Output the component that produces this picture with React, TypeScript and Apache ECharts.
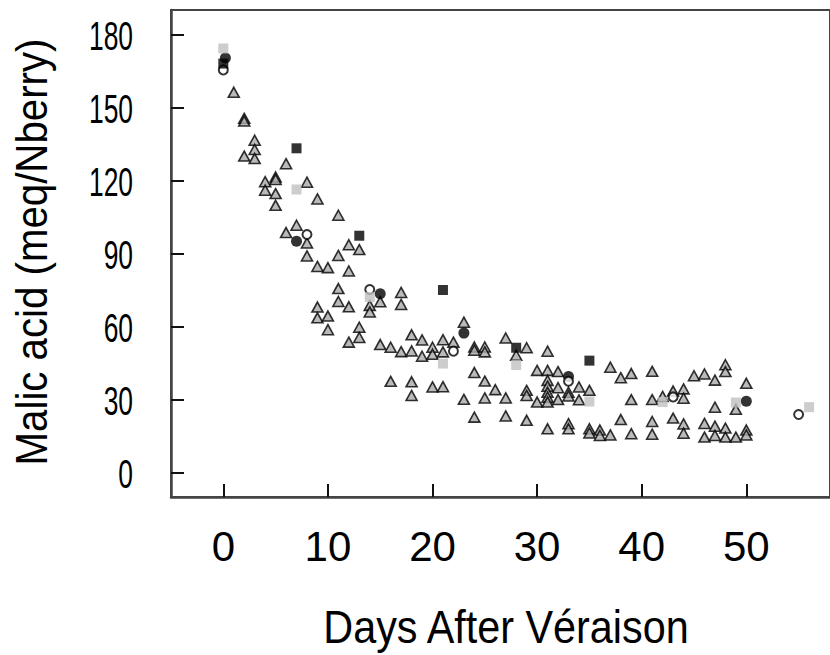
import React, { useEffect, useRef } from "react";
import * as echarts from "echarts";

const xTicks = [0, 10, 20, 30, 40, 50];
const yTicks = [0, 30, 60, 90, 120, 150, 180];

const triangles: number[][] = [
  [1, 156.2],
  [2, 145.5], [2, 144.4], [2, 130],
  [3, 136.5], [3, 132.7], [3, 129],
  [4, 119.5], [4, 116],
  [5, 121.4], [5, 120.4], [5, 114.6], [5, 109.8],
  [6, 126.9], [6, 98.6],
  [7, 101.6],
  [8, 119.3], [8, 94.3], [8, 89],
  [9, 112.4], [9, 84.7], [9, 68], [9, 63.6],
  [10, 84.2], [10, 64.3], [10, 58.7],
  [11, 105.7], [11, 89.2], [11, 75.6], [11, 70.3],
  [12, 93.6], [12, 82.8], [12, 68.1], [12, 53.6],
  [13, 91.6], [13, 59.7], [13, 55.5],
  [14, 68.7], [14, 66],
  [15, 70.2], [15, 52.6],
  [16, 51.5], [16, 37.5],
  [17, 74], [17, 69.1], [17, 49.7],
  [18, 56.6], [18, 50], [18, 37.3], [18, 31.7],
  [19, 54.5], [19, 47.8],
  [20, 51.5], [20, 48.6], [20, 35.2],
  [21, 54.6], [21, 49.6], [21, 35.3],
  [22, 53.6],
  [23, 61.8], [23, 30.1],
  [24, 51.6], [24, 50.3], [24, 41.1], [24, 22.8],
  [25, 51.6], [25, 49.6], [25, 37.6], [25, 30.7],
  [26, 34.1],
  [27, 55.3], [27, 30.7], [27, 23.3],
  [28, 48.2],
  [29, 51.3], [29, 33.8], [29, 31.7], [29, 21.5],
  [30, 42], [30, 29],
  [31, 49.9], [31, 42], [31, 37.9], [31, 35.5], [31, 33], [31, 31], [31, 29], [31, 18],
  [32, 41.5], [32, 34.9], [32, 30],
  [33, 33], [33, 31.5], [33, 20.1], [33, 18],
  [34, 35.2], [34, 29.9],
  [35, 33.8], [35, 18], [35, 16.3],
  [36, 17.5], [36, 15.3],
  [37, 43.3], [37, 15.5],
  [38, 39], [38, 21.8],
  [39, 40.7], [39, 30], [39, 16],
  [41, 41.6], [41, 30], [41, 21], [41, 15.8],
  [42, 31.3],
  [43, 33.5], [43, 22.4],
  [44, 34.4], [44, 30.6], [44, 20], [44, 16.2],
  [45, 39.8],
  [46, 40.5], [46, 20.2], [46, 14.6],
  [47, 38], [47, 26.9], [47, 19.1], [47, 15.3],
  [48, 44.3], [48, 41.5], [48, 18.3], [48, 14.6],
  [49, 26], [49, 14.6],
  [50, 36.7], [50, 17.5], [50, 15.5],
];

const blackCircles: number[][] = [
  [0.2, 170.3], [7, 95], [15, 73.5], [23, 57.3], [33, 39.5], [50, 29.3],
];

const openCircles: number[][] = [
  [0, 165.4], [8, 97.8], [14, 75.2], [22, 49.9], [33, 37.5], [43, 31.1], [55, 23.9],
];

const graySquares: number[][] = [
  [0, 174.2], [7, 116.3], [14, 72.1], [21, 44.8], [28, 44.2], [35, 29.2], [42, 29], [49, 28.8], [56, 26.9],
];

const blackSquares: number[][] = [
  [0, 168], [7, 133.2], [13, 97.3], [21, 75], [28, 51.3], [35, 46],
];

const X_MIN = -5;
const X_MAX = 58;
const Y_MIN = -10;
const Y_MAX = 190;

const FONT = "'Liberation Sans', Arial, Helvetica, sans-serif";

export default function App() {
  const ref = useRef<HTMLDivElement>(null);
  useEffect(() => {
    if (!ref.current) return;
    const chart = echarts.init(ref.current, null, { renderer: "svg" });
    chart.setOption({
      animation: false,
      backgroundColor: "#ffffff",
      grid: {
        left: 171,
        top: 10,
        width: 660.6,
        height: 487,
        show: true,
        borderColor: "#444444",
        borderWidth: 2,
        backgroundColor: "transparent",
      },
      xAxis: {
        type: "value",
        min: X_MIN,
        max: X_MAX,
        axisLine: { show: true, onZero: false, lineStyle: { color: "#444444", width: 2.5 } },
        axisTick: {
          show: true,
          inside: true,
          length: 13,
          customValues: xTicks,
          lineStyle: { color: "#111111", width: 2 },
        },
        axisLabel: {
          customValues: xTicks,
          fontSize: 42,
          fontFamily: FONT,
          color: "#000000",
          margin: 28,
        },
        splitLine: { show: false },
      },
      yAxis: {
        type: "value",
        min: Y_MIN,
        max: Y_MAX,
        axisLine: { show: true, onZero: false, lineStyle: { color: "#444444", width: 2.5 } },
        axisTick: {
          show: true,
          inside: true,
          length: 13,
          customValues: yTicks,
          lineStyle: { color: "#111111", width: 2 },
        },
        axisLabel: { show: false },
        splitLine: { show: false },
      },
      series: [
        {
          type: "scatter",
          data: triangles,
          symbol: "triangle",
          symbolSize: [11, 10],
          itemStyle: { color: "#a9a9a9", borderColor: "#000000", borderWidth: 1.6 },
        },
        {
          type: "scatter",
          data: blackCircles,
          symbol: "circle",
          symbolSize: 11,
          itemStyle: { color: "#000000" },
        },
        {
          type: "scatter",
          data: openCircles,
          symbol: "circle",
          symbolSize: 9,
          itemStyle: { color: "#ffffff", borderColor: "#000000", borderWidth: 2 },
        },
        {
          type: "scatter",
          data: graySquares,
          symbol: "rect",
          symbolSize: 10,
          itemStyle: { color: "#c0c0c0" },
        },
        {
          type: "scatter",
          data: blackSquares,
          symbol: "rect",
          symbolSize: 10,
          itemStyle: { color: "#000000" },
        },
      ],
    });

    // y tick labels: placed through the axis scale, drawn condensed like the reference
    const yLabels = yTicks.map((v) => {
      const p = chart.convertToPixel({ gridIndex: 0 }, [X_MIN, v]) as number[];
      return {
        type: "text",
        x: p[0] - 38,
        y: p[1] + 1,
        scaleX: 0.66,
        style: {
          text: String(v),
          fontSize: 40,
          fontFamily: FONT,
          fill: "#000000",
          align: "right",
          verticalAlign: "middle",
        },
      };
    });

    chart.setOption({
      graphic: [
        ...yLabels,
        {
          type: "text",
          x: 506,
          y: 627,
          scaleX: 0.88,
          style: {
            text: "Days After Véraison",
            fontSize: 47,
            fontFamily: FONT,
            fill: "#000000",
            align: "center",
            verticalAlign: "middle",
          },
        },
        {
          type: "text",
          x: 31,
          y: 252,
          rotation: Math.PI / 2,
          scaleX: 0.894,
          style: {
            text: "Malic acid (meq/Nberry)",
            fontSize: 45,
            fontFamily: FONT,
            fill: "#000000",
            align: "center",
            verticalAlign: "middle",
          },
        },
      ],
    });
    return () => chart.dispose();
  }, []);
  return (
    <div
      ref={ref}
      style={{ position: "fixed", left: 0, top: 0, width: 830, height: 655 }}
    />
  );
}
